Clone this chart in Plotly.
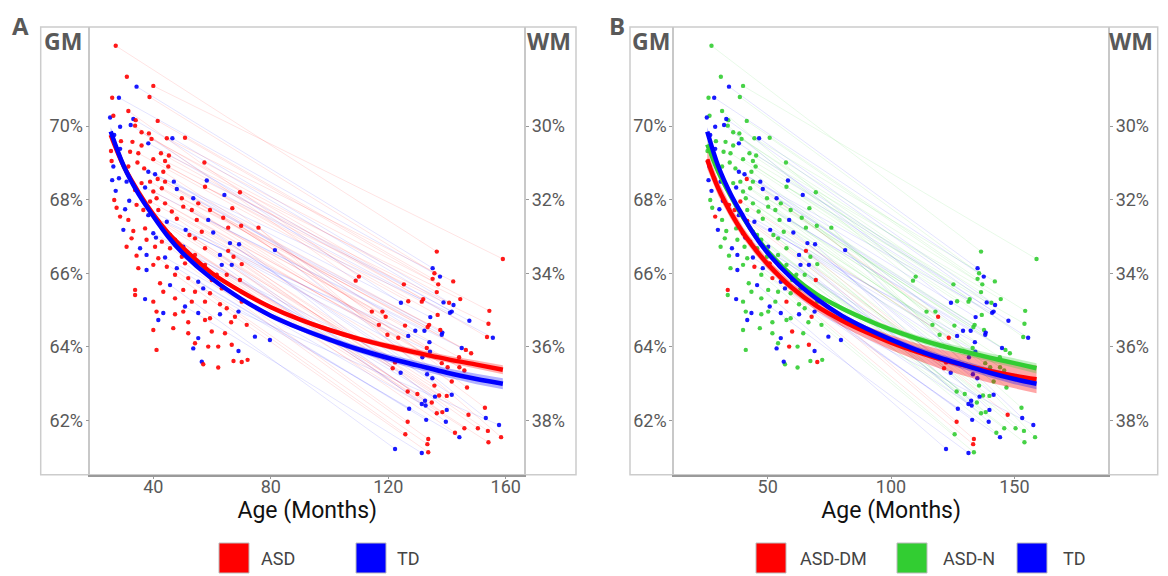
import plotly.graph_objects as go

# ---------------- data ----------------
# TD subjects: first 36 have a follow-up scan (td_age2/td_gm2), the rest baseline only
td_age1 = [34.3, 28.3, 33.2, 32.3, 46.5, 38.3, 38.3, 40.6, 58.2, 47.0, 37.2, 48.0, 64.2, 53.6, 31.8, 38.3,
           58.7, 44.6, 51.0, 60.4, 40.0, 40.9, 66.1, 69.2, 50.2, 81.4, 62.7, 44.0, 63.3, 66.7, 48.0, 55.3,
           45.7, 57.0, 50.8, 69.0,
           25.3, 28.7, 26.7, 28.7, 26.4, 28.3, 26.0, 30.9, 27.2, 30.4, 29.8, 35.5, 37.7, 37.7, 37.2, 43.4,
           55.3, 62.7, 41.7, 74.6, 55.3, 79.7, 53.6, 69.0, 56.5]
td_gm1 = [71.07, 70.77, 70.19, 70.03, 69.67, 69.53, 68.76, 68.69, 68.52, 68.49, 68.33, 68.29, 68.13, 68.04,
          67.97, 67.58, 67.45, 67.40, 67.18, 67.11, 67.09, 66.97, 66.82, 66.79, 66.72, 66.63, 66.50, 66.43,
          66.23, 66.23, 66.14, 65.77, 65.68, 65.59, 65.10, 64.96,
          70.23, 69.98, 69.76, 69.38, 68.90, 68.58, 68.53, 68.49, 68.24, 67.74, 67.18, 66.68, 66.50, 66.09,
          65.30, 64.92, 64.92, 64.89, 64.73, 64.28, 64.24, 64.19, 63.96, 63.89, 63.60]
td_age2 = [135.1, 137.6, 138.8, 124.3, 142.2, 141.6, 141.0, 134.3, 147.6, 129.2, 132.3, 138.4, 155.6, 138.2,
           126.8, 134.0, 145.0, 134.2, 131.6, 133.2, 124.2, 135.0, 141.6, 139.9, 135.9, 153.2, 132.5, 131.4,
           132.7, 139.6, 127.1, 132.9, 122.3, 144.2, 131.4, 157.7]
td_gm2 = [66.14, 65.91, 65.21, 65.20, 65.14, 64.96, 64.93, 64.81, 64.71, 64.44, 64.44, 64.39, 64.25, 64.33,
          64.30, 64.13, 63.97, 63.87, 63.72, 63.26, 63.30, 63.15, 62.70, 62.29, 62.65, 62.07, 62.54, 62.45,
          62.41, 61.97, 62.32, 62.02, 61.23, 61.55, 61.12, 61.88]

# ASD subjects: first 62 have a follow-up scan, the rest baseline only
asd_age1 = [27.2, 40.0, 38.7, 31.5, 41.5, 33.8, 44.6, 50.8, 36.0, 39.4,
            42.6, 45.3, 34.9, 40.0, 44.0, 57.4, 36.9, 43.4, 45.1, 41.5,
            57.6, 38.9, 44.0, 40.0, 42.9, 49.7, 41.1, 69.5, 38.9, 44.0,
            55.3, 59.3, 53.1, 36.6, 46.3, 50.2, 54.8, 41.7, 63.8, 56.5,
            48.0, 66.9, 44.0, 45.7, 52.3, 54.2, 47.4, 69.9, 57.6, 49.7,
            65.5, 42.9, 57.6, 67.3, 70.1, 54.2, 41.7, 75.8, 50.8, 65.0,
            51.9, 47.4,
            31.0, 26.0, 26.4, 34.0, 38.5, 29.0, 32.9, 36.0, 25.6, 32.1,
            25.8, 34.6, 31.5, 36.0, 33.8, 26.7, 34.3, 27.5, 41.7, 28.7,
            31.5, 65.5, 33.2, 37.2, 32.6, 37.7, 30.9, 40.6, 45.7, 34.3,
            34.9, 40.0, 44.6, 59.9, 61.6, 69.5, 33.8, 42.3, 43.4, 50.2,
            54.2, 59.3, 63.3, 33.8, 40.0, 47.4, 53.1, 57.6, 62.7, 65.0,
            70.1, 41.1, 47.4, 50.2, 59.3, 67.8, 51.9, 57.6, 66.5, 71.8,
            40.0, 46.8, 51.9, 59.9, 64.4, 54.2, 58.7, 62.1, 66.7, 41.1,
            57.0, 62.1, 67.3, 70.1, 72.1]
asd_gm1 = [72.18, 71.09, 70.79, 70.41, 70.14, 70.01, 69.67, 69.68, 69.83, 69.65,
           69.26, 69.20, 69.26, 69.10, 69.05, 69.01, 68.85, 68.76, 68.90, 68.56,
           68.35, 68.49, 68.49, 68.22, 68.31, 68.04, 68.04, 68.20, 67.95, 67.90,
           67.90, 67.72, 67.72, 67.72, 67.68, 67.81, 67.45, 67.42, 67.51, 67.13,
           67.48, 67.77, 67.13, 67.04, 67.04, 66.95, 66.91, 67.29, 66.68, 66.45,
           66.61, 66.86, 66.23, 66.45, 66.25, 66.50, 66.41, 67.24, 66.27, 65.96,
           65.87, 65.96,
           71.34, 70.77, 70.28, 70.16, 69.80, 69.59, 69.57, 69.47, 69.32, 69.30,
           69.05, 69.01, 68.90, 68.45, 68.26, 67.99, 67.86, 67.78, 67.72, 67.54,
           67.45, 67.24, 67.15, 67.22, 66.95, 66.91, 66.72, 66.72, 66.68, 66.48,
           66.14, 66.23, 66.18, 65.82, 65.96, 65.82, 65.55, 65.73, 65.50, 65.55,
           65.50, 65.46, 65.59, 65.41, 65.23, 65.32, 65.23, 65.23, 65.16, 65.05,
           65.23, 64.96, 64.89, 64.96, 64.78, 64.82, 64.67, 64.73, 64.67, 64.60,
           64.46, 64.51, 64.37, 64.42, 64.37, 64.10, 64.01, 64.01, 64.06, 63.92,
           63.53, 63.44, 63.62, 63.59, 63.65]
asd_age2 = [136.5, 159.0, 135.7, 110.0, 135.1, 108.9, 142.1, 137.0, 125.3, 136.5,
            131.9, 144.5, 126.8, 131.4, 140.7, 154.4, 114.4, 118.0, 136.8, 119.1,
            154.1, 116.8, 133.9, 125.7, 133.4, 137.7, 119.7, 153.6, 123.4, 133.1,
            146.4, 148.2, 144.1, 122.3, 138.2, 140.2, 144.2, 121.5, 145.9, 141.6,
            135.7, 146.8, 126.6, 129.9, 137.3, 139.9, 134.8, 152.9, 138.4, 136.5,
            147.3, 126.6, 145.9, 150.5, 153.9, 142.7, 125.8, 158.4, 133.6, 154.1,
            133.3, 133.6]
asd_gm2 = [66.59, 66.39, 66.00, 65.91, 65.85, 65.80, 65.78, 65.70, 65.70, 65.49,
           65.30, 65.30, 65.24, 65.23, 65.20, 64.98, 64.96, 64.96, 64.87, 64.82,
           64.63, 64.60, 64.60, 64.58, 64.54, 64.46, 64.33, 64.27, 64.25, 63.97,
           63.92, 63.83, 63.72, 63.58, 63.56, 63.45, 63.45, 63.42, 63.36, 63.06,
           62.95, 62.90, 62.79, 62.72, 62.68, 62.67, 62.49, 62.35, 62.23, 62.20,
           62.16, 61.97, 61.79, 61.79, 61.72, 61.67, 61.63, 61.55, 61.50, 61.41,
           61.36, 61.14]
# ASD subtype of each ASD subject (panel B)
asd_sub = ["N", "N", "N", "N", "N", "N", "N", "N", "N", "N",
           "N", "N", "N", "N", "N", "N", "N", "N", "N", "DM",
           "N", "N", "N", "N", "N", "N", "N", "N", "DM", "N",
           "N", "N", "N", "DM", "N", "N", "N", "DM", "N", "N",
           "N", "N", "N", "N", "N", "N", "N", "N", "N", "N",
           "DM", "DM", "N", "N", "N", "N", "N", "N", "DM", "N",
           "DM", "N",
           "N", "N", "N", "N", "N", "N", "N", "N", "N", "N",
           "DM", "N", "N", "N", "N", "N", "DM", "N", "N", "DM",
           "N", "N", "N", "N", "N", "N", "N", "N", "N", "N",
           "N", "N", "DM", "N", "N", "DM", "DM", "N", "N", "N",
           "N", "N", "N", "N", "N", "N", "N", "DM", "N", "N",
           "N", "N", "N", "N", "N", "DM", "N", "N", "N", "N",
           "N", "N", "N", "DM", "N", "N", "DM", "N", "DM", "N",
           "N", "N", "N", "DM", "N"]

# fitted trajectories (GM %) and half-widths of their confidence bands
fit_age = [25.5, 30, 35, 40, 45, 50, 60, 70, 80, 90, 100, 110, 120, 130, 140, 150, 159]
td_fit = [69.85, 68.9, 68.15, 67.55, 67.0, 66.55, 65.85, 65.3, 64.85, 64.5, 64.2, 63.93, 63.7, 63.5, 63.3, 63.13, 63.0]
td_se = [0.12, 0.09, 0.07, 0.06, 0.05, 0.05, 0.05, 0.05, 0.06, 0.07, 0.08, 0.09, 0.10, 0.11, 0.12, 0.14, 0.15]
asd_fit = [69.76, 68.9, 68.2, 67.6, 67.1, 66.7, 66.0, 65.5, 65.08, 64.74, 64.46, 64.22, 64.02, 63.84, 63.67, 63.52, 63.38]
asd_se = [0.10, 0.07, 0.06, 0.05, 0.04, 0.04, 0.04, 0.04, 0.05, 0.05, 0.06, 0.07, 0.08, 0.09, 0.10, 0.11, 0.12]
dm_fit = [69.08, 68.3, 67.65, 67.1, 66.65, 66.25, 65.6, 65.1, 64.72, 64.4, 64.12, 63.88, 63.67, 63.5, 63.35, 63.22, 63.12]
dm_se = [0.25, 0.20, 0.17, 0.15, 0.14, 0.13, 0.12, 0.13, 0.15, 0.17, 0.20, 0.23, 0.26, 0.29, 0.32, 0.35, 0.38]
n_fit = [69.5, 68.75, 68.1, 67.52, 67.02, 66.6, 65.93, 65.42, 65.05, 64.74, 64.47, 64.24, 64.04, 63.87, 63.71, 63.56, 63.42]
n_se = [0.12, 0.08, 0.06, 0.05, 0.05, 0.05, 0.05, 0.05, 0.06, 0.07, 0.08, 0.09, 0.10, 0.11, 0.12, 0.13, 0.14]

gm_ticks = [62, 64, 66, 68, 70]
gm_labels = ["62%", "64%", "66%", "68%", "70%"]
wm_labels = ["38%", "36%", "34%", "32%", "30%"]
xticks_a = [40, 80, 120, 160]
xticks_b = [50, 100, 150]
legend_a = ["ASD", "TD"]
legend_b = ["ASD-DM", "ASD-N", "TD"]

# ---------------- styling ----------------
# the page body has an 8px margin: the figure occupies the window from (8, 8)
OFF = 8
W, H = 1160, 568
def fx(p):
    return (p - OFF) / W
def fy(p):
    return 1 - (p - OFF) / H

RED, BLUE, GREEN = "#FF0000", "#0000FF", "#32CD32"
RGB = {RED: "255,0,0", BLUE: "0,0,255", GREEN: "50,205,50"}
GREY_TXT = "#595959"
FONT = "Roboto"

fig = go.Figure()


def add_links(a1, g1, a2, g2, color, xa, ya, alpha=0.16):
    xs, ys = [], []
    for p, q, r, s in zip(a1, g1, a2, g2):
        xs += [p, r, None]
        ys += [q, s, None]
    fig.add_trace(go.Scatter(x=xs, y=ys, mode="lines", xaxis=xa, yaxis=ya,
                             line=dict(color=f"rgba({RGB[color]},{alpha})", width=0.7),
                             showlegend=False, hoverinfo="skip"))


def add_points(ages, gms, color, xa, ya):
    fig.add_trace(go.Scatter(x=ages, y=gms, mode="markers", xaxis=xa, yaxis=ya,
                             marker=dict(color=color, size=4.4, opacity=0.9, line=dict(width=0)),
                             showlegend=False, hoverinfo="skip"))


def add_band(fit, se, color, xa, ya, alpha=0.3):
    up = [f + s for f, s in zip(fit, se)]
    lo = [f - s for f, s in zip(fit, se)]
    fig.add_trace(go.Scatter(x=fit_age + fit_age[::-1], y=up + lo[::-1], fill="toself",
                             mode="lines", line=dict(width=0), xaxis=xa, yaxis=ya,
                             fillcolor=f"rgba({RGB[color]},{alpha})", showlegend=False, hoverinfo="skip"))


def add_fit(fit, color, xa, ya):
    fig.add_trace(go.Scatter(x=fit_age, y=fit, mode="lines", xaxis=xa, yaxis=ya,
                             line=dict(color=color, width=4.5, shape="spline"),
                             showlegend=False, hoverinfo="skip"))


n_td = len(td_age2)
n_asd = len(asd_age2)

# ---------------- panel A ----------------
add_links(td_age1[:n_td], td_gm1[:n_td], td_age2, td_gm2, BLUE, "x", "y")
add_links(asd_age1[:n_asd], asd_gm1[:n_asd], asd_age2, asd_gm2, RED, "x", "y")
add_points(td_age1 + td_age2, td_gm1 + td_gm2, BLUE, "x", "y")
add_points(asd_age1 + asd_age2, asd_gm1 + asd_gm2, RED, "x", "y")
add_band(asd_fit, asd_se, RED, "x", "y")
add_band(td_fit, td_se, BLUE, "x", "y")
add_fit(asd_fit, RED, "x", "y")
add_fit(td_fit, BLUE, "x", "y")
fig.add_trace(go.Scatter(x=[], y=[], xaxis="x", yaxis="y2", showlegend=False, hoverinfo="skip"))

# ---------------- panel B ----------------
def pick(vals, code, limit=None):
    subs = asd_sub if limit is None else asd_sub[:limit]
    return [v for v, c in zip(vals, subs) if c == code]

add_links(td_age1[:n_td], td_gm1[:n_td], td_age2, td_gm2, BLUE, "x2", "y3")
for code, col in (("N", GREEN), ("DM", RED)):
    add_links(pick(asd_age1, code, n_asd), pick(asd_gm1, code, n_asd),
              pick(asd_age2, code, n_asd), pick(asd_gm2, code, n_asd), col, "x2", "y3")
add_points(pick(asd_age1, "N") + pick(asd_age2, "N", n_asd),
           pick(asd_gm1, "N") + pick(asd_gm2, "N", n_asd), GREEN, "x2", "y3")
add_points(td_age1 + td_age2, td_gm1 + td_gm2, BLUE, "x2", "y3")
add_points(pick(asd_age1, "DM") + pick(asd_age2, "DM", n_asd),
           pick(asd_gm1, "DM") + pick(asd_gm2, "DM", n_asd), RED, "x2", "y3")
add_band(dm_fit, dm_se, RED, "x2", "y3", 0.35)
add_band(n_fit, n_se, GREEN, "x2", "y3")
add_band(td_fit, td_se, BLUE, "x2", "y3")
add_fit(n_fit, GREEN, "x2", "y3")
add_fit(dm_fit, RED, "x2", "y3")
add_fit(td_fit, BLUE, "x2", "y3")
fig.add_trace(go.Scatter(x=[], y=[], xaxis="x2", yaxis="y4", showlegend=False, hoverinfo="skip"))

# ---------------- axes ----------------
ydom = [fy(474.7), fy(27)]
yrange = [60.53, 72.69]
tickfont = dict(family=FONT, size=18, color=GREY_TXT)
xtitle = dict(text="Age (Months)", font=dict(family=FONT, size=23, color="#111111"), standoff=5)

def xaxis(dom, rng, ticks, anchor):
    return dict(domain=dom, range=rng, tickvals=ticks, ticks="outside", ticklen=3, tickcolor="#999999",
                showline=True, linecolor="#9a9a9a", linewidth=1.5, showgrid=False, zeroline=False,
                tickfont=tickfont, title=xtitle, anchor=anchor, ticklabelstandoff=-8)

def yaxis(anchor, labels, side="left", overlay=None):
    d = dict(range=yrange, tickvals=gm_ticks, ticktext=labels, ticks="outside", ticklen=3,
             tickcolor="#999999", showline=True, linecolor="#c8c8c8", linewidth=1.5, showgrid=False,
             zeroline=False, tickfont=tickfont, anchor=anchor, side=side, ticklabelstandoff=-1)
    if overlay:
        d["overlaying"] = overlay
    else:
        d["domain"] = ydom
    return d

fig.update_layout(
    width=W, height=H, margin=dict(l=0, r=0, t=0, b=0),
    paper_bgcolor="white", plot_bgcolor="white", showlegend=False,
    xaxis=xaxis([fx(90.3), fx(524.3)], [18.55, 166.3], xticks_a, "y"),
    xaxis2=xaxis([fx(674), fx(1108.3)], [12.0, 188.1], xticks_b, "y3"),
    yaxis=yaxis("x", gm_labels),
    yaxis2=yaxis("x", wm_labels, "right", "y"),
    yaxis3=yaxis("x2", gm_labels),
    yaxis4=yaxis("x2", wm_labels, "right", "y3"),
)

# outer panel frames
shapes = []
for x0, x1 in ((40.7, 576), (630, 1157.7)):
    shapes.append(dict(type="rect", xref="paper", yref="paper", x0=fx(x0), x1=fx(x1),
                       y0=fy(474.7), y1=fy(27), line=dict(color="#cccccc", width=1.5), layer="below"))

annotations = []
def label(text, x, y, size, bold=True, color=GREY_TXT, family="Open Sans", xanchor="left"):
    annotations.append(dict(text=f"<b>{text}</b>" if bold else text, x=fx(x), y=fy(y), xref="paper",
                            yref="paper", xanchor=xanchor, yanchor="middle", showarrow=False,
                            font=dict(family=family, size=size, color=color)))

label("A", 10, 26, 24)
label("B", 607, 26, 24)
label("GM", 42, 41, 23)
label("WM", 525, 41, 23)
label("GM", 630, 41, 23)
label("WM", 1107, 41, 23)

# legends (drawn as keys below each panel)
legend_items = [(legend_a[0], RED, 219, 259), (legend_a[1], BLUE, 356, 395),
                (legend_b[0], RED, 756, 798), (legend_b[1], GREEN, 897, 941), (legend_b[2], BLUE, 1017, 1061)]
for name, col, sx, tx in legend_items:
    shapes.append(dict(type="rect", xref="paper", yref="paper", x0=fx(sx), x1=fx(sx + 30),
                       y0=fy(573), y1=fy(543), fillcolor=col, line=dict(color="#bbbbbb", width=1)))
    label(name, tx, 558, 18, bold=False, color="#444444", family=FONT)

fig.update_layout(shapes=shapes, annotations=annotations)
fig.write_html("out.html")
